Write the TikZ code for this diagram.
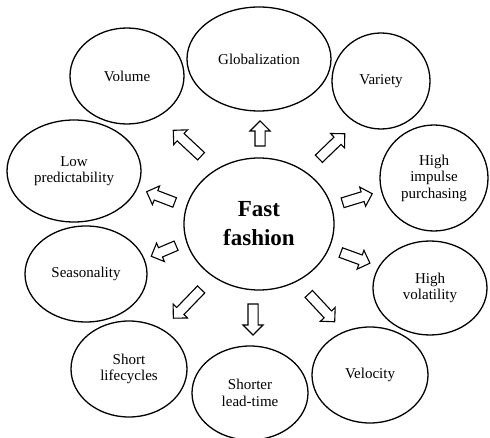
\documentclass[tikz,border=0pt]{standalone}
\usepackage{fontspec}
\setmainfont{Liberation Serif}
\usetikzlibrary{shapes.geometric,shapes.arrows}

\tikzset{
  bubble/.style={draw, ellipse, line width=1.3pt, inner sep=0pt, align=center,
    font=\fontsize{15}{16.5}\selectfont},
  fatarrow/.style={draw, single arrow, line width=1.1pt, fill=white, inner sep=0pt,
    text height=9pt, text depth=0pt, single arrow head extend=5pt, minimum height=#1},
}

\begin{document}
\begin{tikzpicture}[x=1pt,y=-1pt]
        \useasboundingbox (0,0) rectangle (490,438);

        \node[bubble, minimum width=150, minimum height=132,
              font=\fontsize{23}{29}\selectfont\bfseries] (ff) at (259,224) {Fast\\fashion};

        \node[bubble, minimum width=144, minimum height=104] (glob) at (259,59) {Globalization};
        \node[bubble, minimum width=114, minimum height=96] (vol) at (127,76) {Volume};
        \node[bubble, minimum width=98, minimum height=96] (var) at (381,81) {Variety};
        \node[bubble, minimum width=134, minimum height=102] (lowp) at (74,171) {Low\\predictability};
        \node[bubble, minimum width=108, minimum height=106] (imp) at (434,178) {High\\impulse\\purchasing};
        \node[bubble, minimum width=122, minimum height=96] (seas) at (86,274) {Seasonality};
        \node[bubble, minimum width=114, minimum height=94] (vola) at (430,288) {High\\volatility};
        \node[bubble, minimum width=116, minimum height=96] (life) at (129,369) {Short\\lifecycles};
        \node[bubble, minimum width=116, minimum height=94] (lead) at (250,393) {Shorter\\lead-time};
        \node[bubble, minimum width=116, minimum height=96] (velo) at (370,375) {Velocity};

        % block arrows out of the centre
        \node[fatarrow=25, rotate=90] (toglob) at (260,136) {};
        \node[fatarrow=38, rotate=137] (tovol) at (189,145) {};
        \node[fatarrow=36, rotate=44] (tovar) at (330,148) {};
        \node[fatarrow=30, rotate=159] (tolowp) at (163,198) {};
        \node[fatarrow=31, rotate=17] (toimp) at (355,199) {};
        \node[fatarrow=27, rotate=203] (toseas) at (166,250) {};
        \node[fatarrow=31, rotate=-20] (tovola) at (353,257) {};
        \node[fatarrow=40, rotate=226] (tolife) at (189,302) {};
        \node[fatarrow=31, rotate=270] (tolead) at (253,317) {};
        \node[fatarrow=38, rotate=-47] (tovelo) at (320,306) {};
\end{tikzpicture}
\end{document}
